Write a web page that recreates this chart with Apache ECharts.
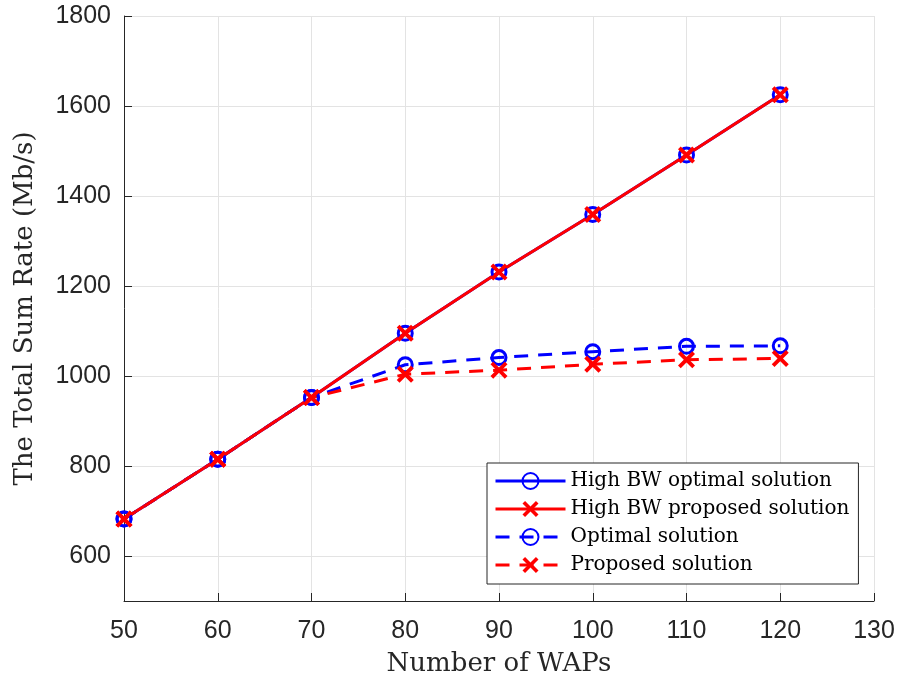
<!DOCTYPE html>
<html>
<head>
<meta charset="utf-8">
<script src="https://cdn.jsdelivr.net/npm/echarts@6/dist/echarts.min.js"></script>
<style>
  html, body { margin: 0; padding: 0; background: #fff; }
  #container { width: 898px; height: 684px; }
</style>
</head>
<body>
<div id="container"></div>
<script>
var waps = [50, 60, 70, 80, 90, 100, 110, 120];
var highBwOptimal = [682, 815, 952, 1095, 1231, 1359, 1491, 1625];
var highBwProposed = [682, 815, 952, 1095, 1231, 1359, 1491, 1625];
var optimal = [682, 815, 952, 1025, 1041, 1054, 1066, 1067];
var proposed = [682, 815, 952, 1004, 1013, 1026, 1036, 1039];
var seriesNames = ['High BW optimal solution', 'High BW proposed solution', 'Optimal solution', 'Proposed solution'];
var yTicks = [600, 800, 1000, 1200, 1400, 1600, 1800];

var crossPath = 'path://M1.6,0 L5,3.4 L8.4,0 L10,1.6 L6.6,5 L10,8.4 L8.4,10 L5,6.6 L1.6,10 L0,8.4 L3.4,5 L0,1.6 Z';
var serif = 'DejaVu Serif';
var axisColor = '#262626';

function pairs(vals) {
    return waps.map(function (w, i) { return [w, vals[i]]; });
}

function makeSeries(name, vals, color, dashed, isCross) {
    return {
        name: name,
        type: 'line',
        data: pairs(vals),
        symbol: isCross ? crossPath : 'circle',
        symbolSize: isCross ? 17 : 14,
        showAllSymbol: true,
        lineStyle: {
            color: color,
            width: 3,
            type: dashed ? [14, 10] : 'solid'
        },
        itemStyle: isCross ? {
            color: color
        } : {
            color: 'rgba(255,255,255,0)',
            borderColor: color,
            borderWidth: 3
        },
        emphasis: { disabled: true },
        animation: false
    };
}

var dom = document.getElementById('container');
var myChart = echarts.init(dom);

var option = {
    backgroundColor: '#fff',
    grid: {
        left: 124,
        right: 24,
        top: 16,
        bottom: 83
    },
    legend: {
        orient: 'vertical',
        left: 487,
        top: 463,
        padding: [8, 9, 9, 7],
        itemWidth: 70,
        itemHeight: 20,
        itemGap: 8,
        backgroundColor: '#fff',
        borderColor: axisColor,
        borderWidth: 1,
        borderRadius: 0,
        lineStyle: { width: 3 },
        textStyle: {
            fontFamily: serif,
            fontSize: 20,
            color: '#000'
        },
        data: seriesNames
    },
    xAxis: {
        type: 'value',
        min: 50,
        max: 130,
        interval: 10,
        name: 'Number of WAPs',
        nameLocation: 'middle',
        nameGap: 50,
        nameTextStyle: { fontFamily: serif, fontSize: 26, color: axisColor },
        axisLine: { lineStyle: { color: axisColor, width: 1 } },
        axisTick: { inside: true, length: 8, lineStyle: { color: axisColor } },
        axisLabel: { fontFamily: 'Liberation Sans', fontSize: 25, color: axisColor, margin: 18 },
        splitLine: { show: true, lineStyle: { color: '#e3e3e3', width: 1 } }
    },
    yAxis: {
        type: 'value',
        min: 500,
        max: 1800,
        name: 'The Total Sum Rate (Mb/s)',
        nameLocation: 'middle',
        nameGap: 86,
        nameTextStyle: { fontFamily: serif, fontSize: 26, color: axisColor },
        axisLine: { show: true, lineStyle: { color: axisColor, width: 1 } },
        axisTick: {
            show: true, inside: true, length: 8, lineStyle: { color: axisColor },
            customValues: yTicks
        },
        axisLabel: {
            fontFamily: 'Liberation Sans', fontSize: 25, color: axisColor, margin: 13,
            customValues: yTicks,
            formatter: function (v) { return String(v); }
        },
        splitLine: { show: true, lineStyle: { color: '#e3e3e3', width: 1 } }
    },
    series: [
        makeSeries(seriesNames[0], highBwOptimal, '#0000ff', false, false),
        makeSeries(seriesNames[1], highBwProposed, '#ff0000', false, true),
        makeSeries(seriesNames[2], optimal, '#0000ff', true, false),
        makeSeries(seriesNames[3], proposed, '#ff0000', true, true)
    ]
};

myChart.setOption(option);
</script>
</body>
</html>
